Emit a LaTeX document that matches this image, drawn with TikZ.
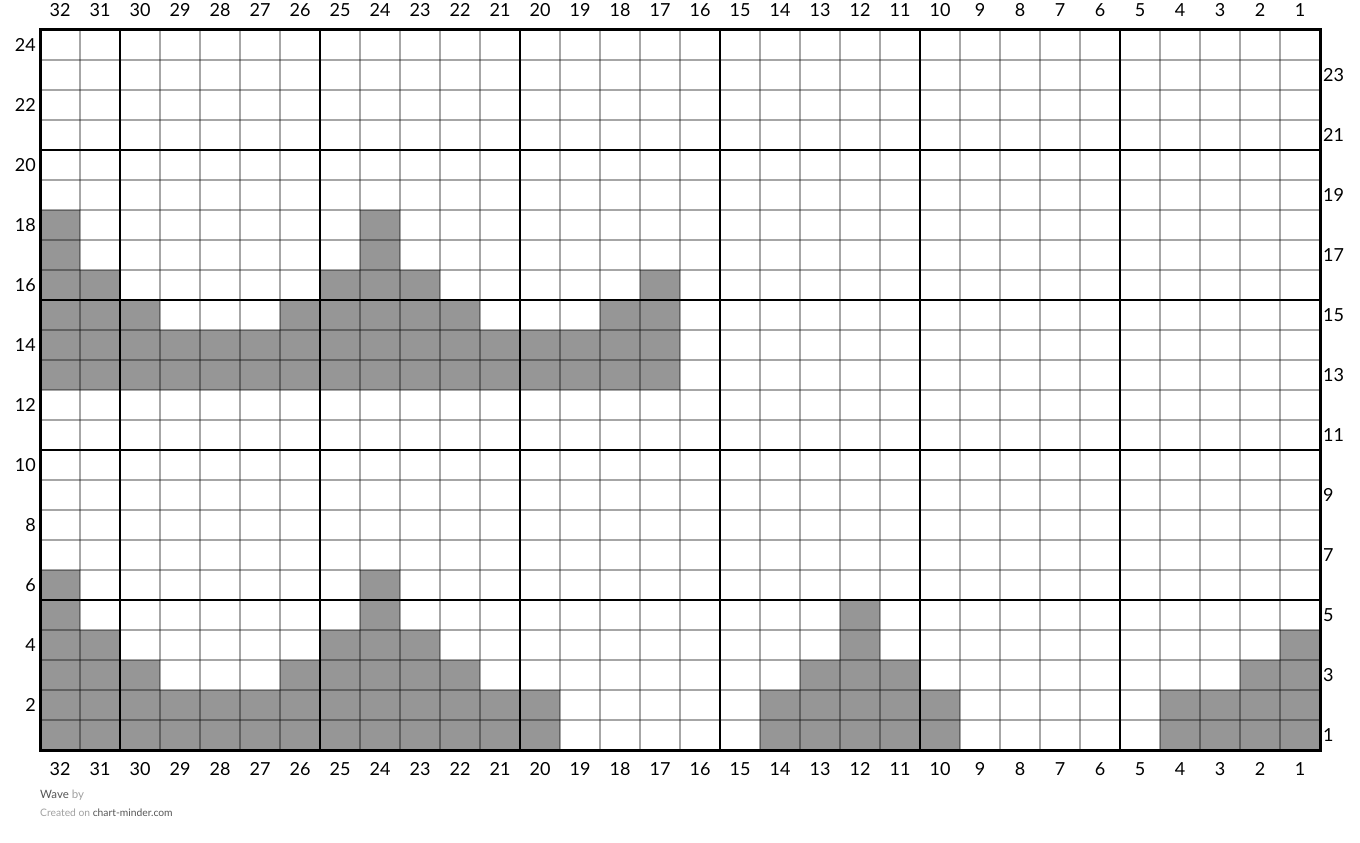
\documentclass[tikz,border=0pt]{standalone}
\usepackage{fontspec}
\setmainfont{Lato}
\usepackage{xcolor}
\usepackage{tikz}
\definecolor{stitch}{HTML}{969696}
\definecolor{credit}{HTML}{555555}
\definecolor{creditlight}{HTML}{A0A0A0}

\begin{document}
\begin{tikzpicture}[x=1pt, y=-1pt,
    cell/.style={fill=stitch},
    thinrule/.style={black, opacity=0.35, line width=1.2pt},
    thickrule/.style={black, line width=2.2pt},
    num/.style={font=\fontsize{18}{20}\selectfont, inner sep=1pt}]
    \useasboundingbox (0,0) rectangle (1360,843);

    % Filled stitches: row / first column / last column
    \foreach \r/\a/\b in {18/32/32, 18/24/24, 17/32/32, 17/24/24,
        16/32/31, 16/25/23, 16/17/17,
        15/32/30, 15/26/22, 15/18/17,
        14/32/17, 13/32/17,
        6/32/32, 6/24/24,
        5/32/32, 5/24/24, 5/12/12,
        4/32/31, 4/25/23, 4/12/12, 4/1/1,
        3/32/30, 3/26/22, 3/13/11, 3/2/1,
        2/32/20, 2/14/10, 2/4/1,
        1/32/20, 1/14/10, 1/4/1}
        \fill[cell] ({40+(32-\a)*40},{30+(24-\r)*30}) rectangle ({40+(33-\b)*40},{60+(24-\r)*30});

    % Fine grid
    \foreach \i in {0,...,32}
        \draw[thinrule] ({40+40*\i},30) -- ({40+40*\i},750);
    \foreach \j in {0,...,24}
        \draw[thinrule] (40,{30+30*\j}) -- (1320,{30+30*\j});

    % Every fifth line
    \foreach \x in {120,320,...,1120}
        \draw[thickrule] (\x,30) -- (\x,750);
    \foreach \y in {150,300,450,600}
        \draw[thickrule] (40,\y) -- (1320,\y);
    \draw[black, line width=3pt] (40,30) rectangle (1320,750);

    % Column numbers
    \foreach \c in {1,...,32} {
        \node[num] (top\c) at ({60+(32-\c)*40},10) {\c};
        \node[num] (bot\c) at ({60+(32-\c)*40},769) {\c};
    }

    % Row numbers
    \foreach \r in {2,4,...,24}
        \node[num, left] (lft\r) at (37,{45+(24-\r)*30}) {\r};
    \foreach \r in {1,3,...,23}
        \node[num, right] (rgt\r) at (1322,{45+(24-\r)*30}) {\r};

    % Credits
    \node[font=\fontsize{11.5}{13}\selectfont, anchor=west, inner sep=0pt] (title) at (40,795)
        {\textcolor{credit}{Wave} \textcolor{creditlight}{by}};
    \node[font=\fontsize{10.3}{12}\selectfont, anchor=west, inner sep=0pt] (site) at (40,813)
        {\textcolor{creditlight}{Created on} \textcolor{credit}{chart-minder.com}};
\end{tikzpicture}
\end{document}
